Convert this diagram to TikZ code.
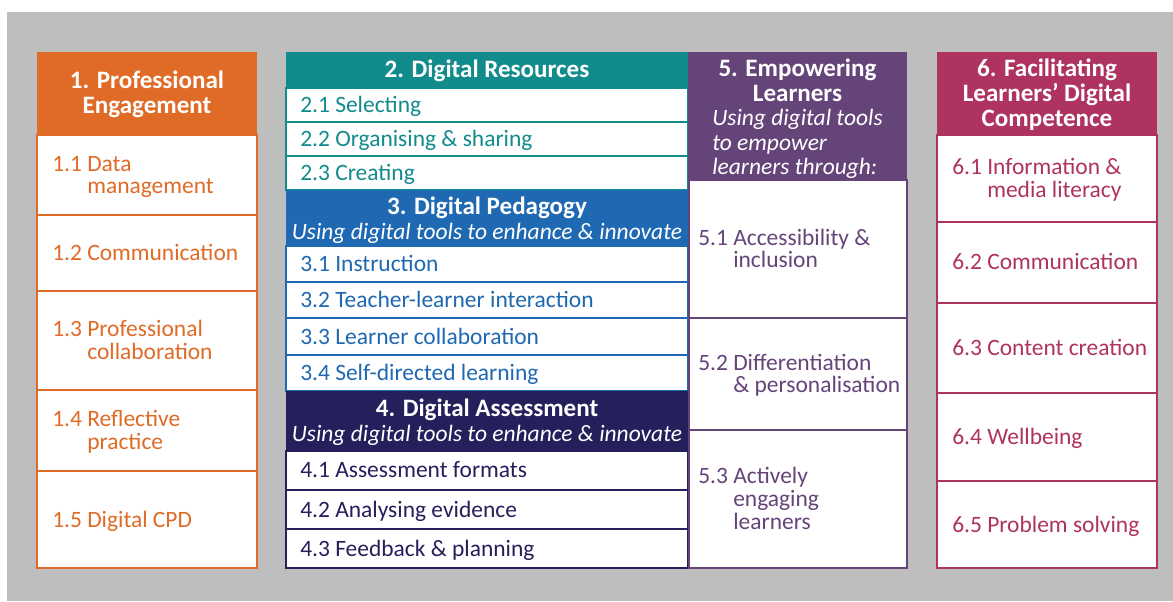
\documentclass[tikz,border=0pt]{standalone}
\usepackage{fontspec}
\setmainfont{Carlito}
\usepackage{xcolor}
\usetikzlibrary{positioning}
\definecolor{bggray}{RGB}{190,190,190}
\definecolor{engorange}{RGB}{224,107,38}
\definecolor{resteal}{RGB}{18,139,141}
\definecolor{pedblue}{RGB}{31,105,178}
\definecolor{assnavy}{RGB}{37,32,92}
\definecolor{emppurple}{RGB}{101,69,121}
\definecolor{facmagenta}{RGB}{175,51,96}
\newcommand{\itm}[2]{#1~\begin{tabular}[t]{@{}l@{}}#2\end{tabular}}

\begin{document}
\begin{tikzpicture}[x=0.75pt,y=-0.75pt,
    box/.style={draw=#1,line width=1.5pt,fill=white},
    item/.style={anchor=west,inner sep=0pt,yshift=-2pt,font=\fontsize{17.6}{16.5}\selectfont},
    head/.style={inner sep=0pt,align=center,text=white,font=\fontsize{18.8}{18.75}\selectfont\bfseries},
    sub/.style={inner sep=0pt,text=white,font=\fontsize{17.6}{18.4}\selectfont\itshape}]
  \useasboundingbox (0,0) rectangle (1173,601);
  \fill[bggray] (7,12) rectangle (1173,601);
  % 1. Professional Engagement
  \begin{scope}
    \fill[engorange] (37,52) rectangle (257,135);
    \node[head] (h1) at (147,94) {1. Professional\\Engagement};
    \foreach \ya/\yb/\nr/\txt [count=\k] in {135/215/1.1/{Data\\management},
        215/291/1.2/{Communication}, 291/390/1.3/{Professional\\collaboration},
        390/471/1.4/{Reflective\\practice}, 471/568/1.5/{Digital CPD}} {
      \draw[box=engorange] (37,\ya) rectangle (257,\yb);
      \node[item,text=engorange] (p\k) at (52,{(\ya+\yb)/2}) {\itm{\nr}{\txt}};
    }
  \end{scope}
  % 2. Digital Resources
  \begin{scope}
    \fill[resteal] (286,52) rectangle (688,88);
    \node[head] (h2) at (487,71) {2. Digital Resources};
    \foreach \ya/\yb/\nr/\txt [count=\k] in {88/122/2.1/Selecting,
        122/156/2.2/{Organising \& sharing}, 156/190/2.3/Creating} {
      \draw[box=resteal] (286,\ya) rectangle (688,\yb);
      \node[item,text=resteal] (r\k) at (300,{(\ya+\yb)/2}) {\itm{\nr}{\txt}};
    }
  \end{scope}
  % 3. Digital Pedagogy
  \begin{scope}
    \fill[pedblue] (286,190) rectangle (688,246);
    \node[head] (h3) at (487,220) {3. Digital Pedagogy\\{\mdseries\itshape\fontsize{17.6}{18.4}\selectfont Using digital tools to enhance \& innovate}};
    \foreach \ya/\yb/\nr/\txt [count=\k] in {246/282/3.1/Instruction,
        282/318/3.2/{Teacher-learner interaction}, 318/355/3.3/{Learner collaboration},
        355/391/3.4/{Self-directed learning}} {
      \draw[box=pedblue] (286,\ya) rectangle (688,\yb);
      \node[item,text=pedblue] (d\k) at (300,{(\ya+\yb)/2}) {\itm{\nr}{\txt}};
    }
  \end{scope}
  % 4. Digital Assessment
  \begin{scope}
    \fill[assnavy] (286,391) rectangle (688,451);
    \node[head] (h4) at (487,422.5) {4. Digital Assessment\\{\mdseries\itshape\fontsize{17.6}{18.4}\selectfont Using digital tools to enhance \& innovate}};
    \foreach \ya/\yb/\nr/\txt [count=\k] in {451/490/4.1/{Assessment formats},
        490/529/4.2/{Analysing evidence}, 529/568/4.3/{Feedback \& planning}} {
      \draw[box=assnavy] (286,\ya) rectangle (688,\yb);
      \node[item,text=assnavy] (a\k) at (300,{(\ya+\yb)/2}) {\itm{\nr}{\txt}};
    }
  \end{scope}
  % 5. Empowering Learners
  \begin{scope}
    \fill[emppurple] (688,52) rectangle (907,180);
    \node[head] (h5) at (797.5,80) {5. Empowering\\Learners};
    \node[sub,align=left] (s5) at (797.5,144) {Using digital tools\\to empower\\learners through:};
    \foreach \ya/\yb/\nr/\txt [count=\k] in {180/318/5.1/{Accessibility \&\\inclusion},
        318/430/5.2/{Differentiation\\\& personalisation},
        430/568/5.3/{Actively\\engaging\\learners}} {
      \draw[box=emppurple] (689,\ya) rectangle (907,\yb);
      \node[item,text=emppurple] (e\k) at (698,{(\ya+\yb)/2}) {\itm{\nr}{\txt}};
    }
  \end{scope}
  % 6. Facilitating Learners' Digital Competence
  \begin{scope}
    \fill[facmagenta] (937,52) rectangle (1157,135);
    \node[head] (h6) at (1047,94.5) {6. Facilitating\\Learners’ Digital\\Competence};
    \foreach \ya/\yb/\nr/\txt [count=\k] in {135/222/6.1/{Information \&\\media literacy},
        222/303/6.2/Communication, 303/393/6.3/{Content creation},
        393/481/6.4/Wellbeing, 481/568/6.5/{Problem solving}} {
      \draw[box=facmagenta] (937,\ya) rectangle (1157,\yb);
      \node[item,text=facmagenta] (f\k) at (952,{(\ya+\yb)/2}) {\itm{\nr}{\txt}};
    }
  \end{scope}
\end{tikzpicture}
\end{document}
